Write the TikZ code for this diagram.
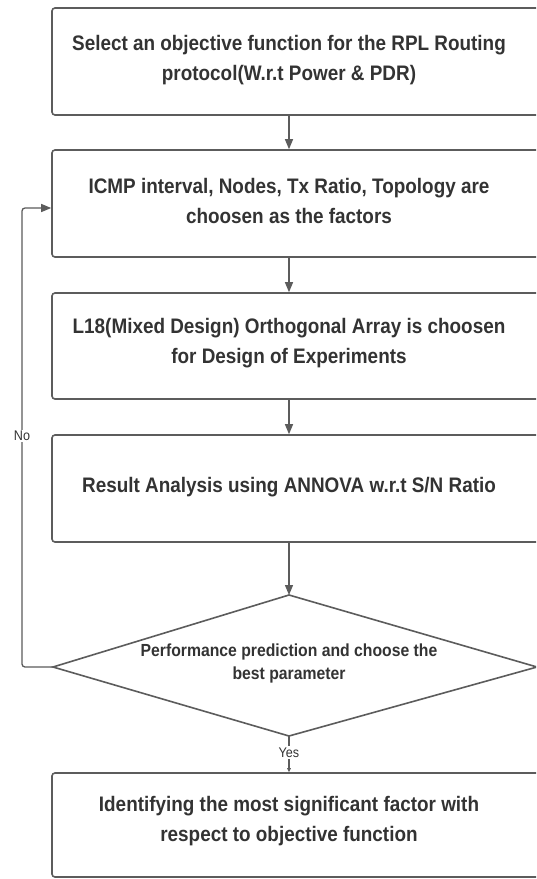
\documentclass[tikz,border=0pt]{standalone}
\usepackage{fontspec}
\setmainfont{Liberation Sans}[FakeStretch=0.9]
\usetikzlibrary{arrows.meta,shapes.geometric}
\definecolor{lineC}{HTML}{5C5C5C}
\definecolor{txtC}{HTML}{333333}
\begin{document}
\begin{tikzpicture}[x=1pt,y=-1pt,
  box/.style={draw=lineC, line width=1.6pt, rounded corners=3pt, minimum width=498pt, inner sep=0pt, fill=white},
  txt/.style={text=txtC, align=center, font=\fontsize{21}{30}\selectfont\bfseries, inner sep=0pt},
  dtxt/.style={text=txtC, align=center, font=\fontsize{17.5}{23}\selectfont\bfseries, inner sep=0pt},
  lbl/.style={text=txtC, font=\fontsize{14}{16}\selectfont, fill=white, inner sep=1.5pt},
  arr/.style={draw=lineC, line width=1.3pt, -{Triangle[length=10pt,width=8pt]}},
  conn/.style={draw=lineC, line width=1.3pt}]
\useasboundingbox (0,0) rectangle (536,879);
\clip (0,0) rectangle (536,879);
\fill[white] (0,0) rectangle (536,879);

\node[box, minimum height=107pt] (b1) at (301,61.5) {};
\node[box, minimum height=107pt] (b2) at (301,203.5) {};
\node[box, minimum height=106pt] (b3) at (301,346) {};
\node[box, minimum height=107pt] (b4) at (301,488.5) {};
\node[box, minimum height=104pt] (b5) at (301,825) {};

\coordinate (dN) at (289,595);
\coordinate (dW) at (53,667);
\coordinate (dS) at (289,736);
\coordinate (dE) at (537,667);
\draw[draw=lineC, line width=1.6pt, fill=white, line join=miter] (dN) -- (dE) -- (dS) -- (dW) -- cycle;

\node[txt] (t1) at (289,60) {Select an objective function for the RPL Routing\\protocol(W.r.t Power \& PDR)};
\node[txt] (t2) at (289,201) {ICMP interval, Nodes, Tx Ratio, Topology are\\choosen as the factors};
\node[txt] (t3) at (289,343) {L18(Mixed Design) Orthogonal Array is choosen\\for Design of Experiments};
\node[txt] (t4) at (289,487) {Result Analysis using ANNOVA w.r.t S/N Ratio};
\node[dtxt] (t5) at (289,663) {Performance prediction and choose the\\best parameter};
\node[txt] (t6) at (289,821) {Identifying the most significant factor with\\respect to objective function};

\draw[arr] (b1.south -| t1) -- (b2.north -| t1);
\draw[arr] (b2.south -| t2) -- (b3.north -| t2);
\draw[arr] (b3.south -| t3) -- (b4.north -| t3);
\draw[arr] (b4.south -| t4) -- (dN);

\coordinate (yesEnd) at (b5.north -| t6);
\draw[draw=lineC, line width=1.2pt, -{Triangle[length=4pt,width=3.5pt]}] (dS) -- (yesEnd) node[lbl, pos=0.45] (yes) {Yes};

\coordinate (nA) at (22,667);
\coordinate (nB) at (22,208);
\draw[arr, rounded corners=3pt] (dW) -- (nA) -- (nB) -- (b2.west |- nB);
\node[lbl] (no) at (22,436) {No};
\end{tikzpicture}
\end{document}
